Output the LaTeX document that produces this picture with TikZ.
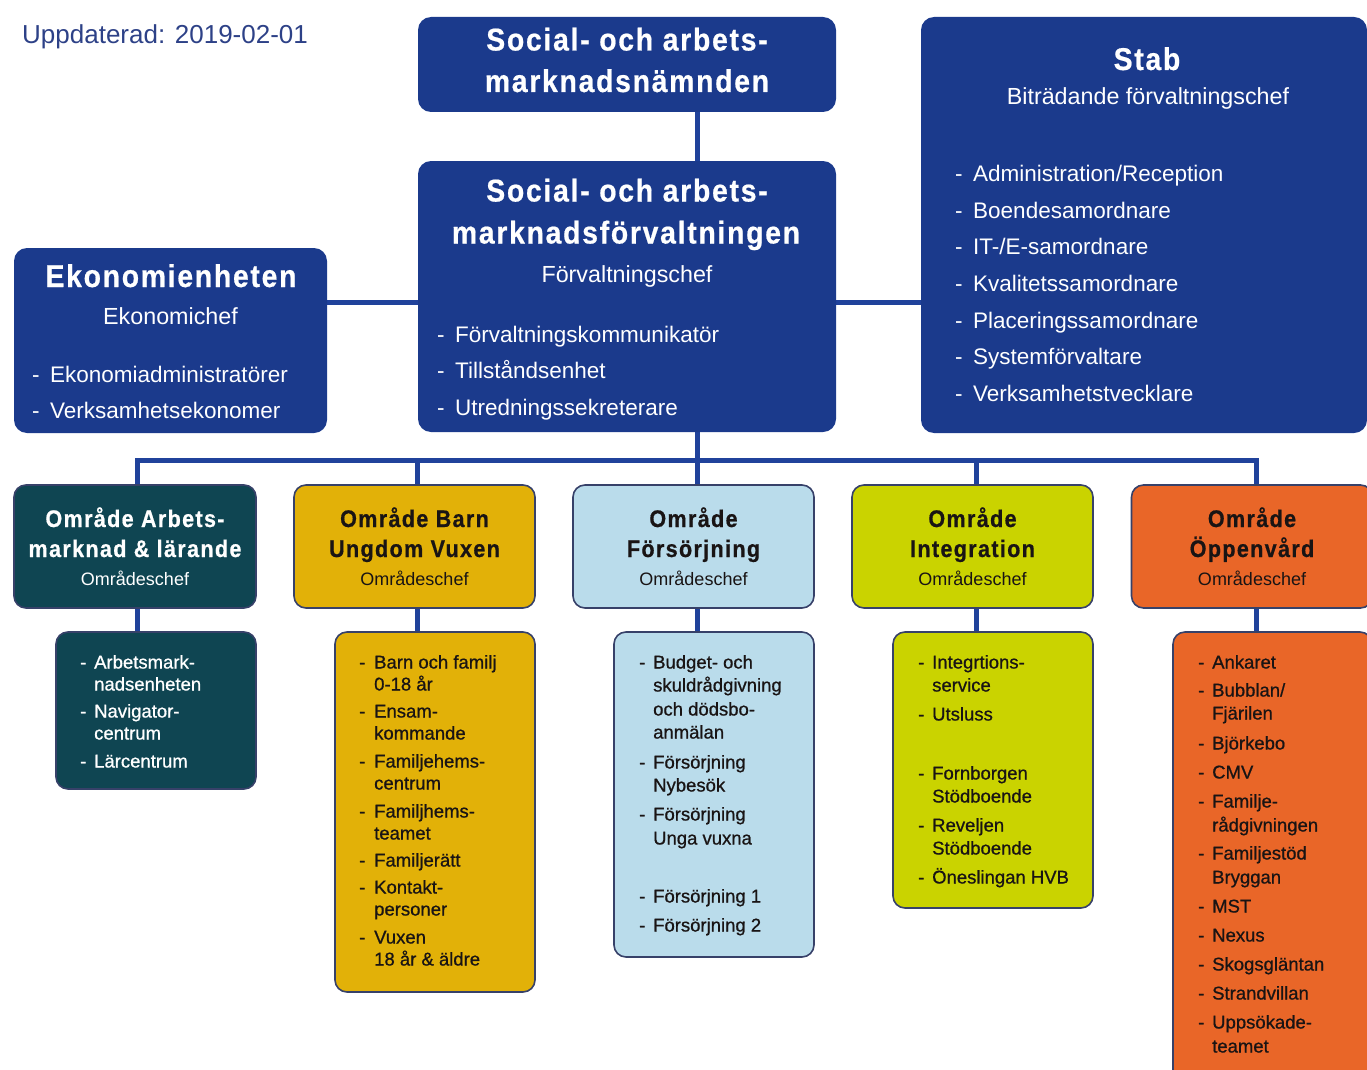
\documentclass[tikz,border=0pt]{standalone}
\usepackage{fontspec}
\setmainfont{Liberation Sans}
\newfontfamily\ttlfont[LetterSpace=5.5,FakeStretch=0.9,FakeBold=0.6]{Liberation Sans Bold}
\newfontfamily\medfont[FakeBold=0.8]{Liberation Sans}
\usetikzlibrary{backgrounds}
\definecolor{navy}{RGB}{27,58,140}
\definecolor{linec}{RGB}{32,66,155}
\definecolor{datec}{RGB}{45,65,135}
\definecolor{bord}{RGB}{55,65,105}
\definecolor{teal}{RGB}{15,69,82}
\definecolor{amber}{RGB}{226,177,8}
\definecolor{lblue}{RGB}{186,220,235}
\definecolor{lime}{RGB}{202,211,0}
\definecolor{orng}{RGB}{233,102,40}
\definecolor{dark}{RGB}{25,20,20}
\tikzset{
  box/.style={rounded corners=13pt, inner sep=0pt, outer sep=0pt},
  navybox/.style={box, fill=navy},
  areabox/.style={box, draw=bord, line width=1.6pt, rounded corners=12pt},
  conn/.style={draw=linec, line width=5pt},
  bigttl/.style={anchor=base, inner sep=0pt, text=white, font=\ttlfont\fontsize{31.5}{36}\selectfont},
  bigsub/.style={anchor=base, inner sep=0pt, text=white, font=\fontsize{23.3}{28}\selectfont},
  bigitem/.style={anchor=base west, inner sep=0pt, text=white, font=\fontsize{22.5}{27}\selectfont},
  arttl/.style={anchor=base, inner sep=0pt, font=\ttlfont\fontsize{24}{28}\selectfont},
  arsub/.style={anchor=base, inner sep=0pt, font=\fontsize{18}{22}\selectfont},
  subitem/.style={anchor=base west, inner sep=0pt, font=\medfont\fontsize{18.5}{22}\selectfont},
  wt/.style={text=white},
  dk/.style={text=dark}
}
% #1 name prefix, #2 dash x, #3 text x, #4 style, #5 list y/dash/text
\newcommand\mklist[5]{%
  \foreach \yy/\dd/\txt [count=\n] in {#5}{%
    \node[#4] (#1-\n) at (#3,\yy) {\txt};
    \ifnum\dd=1 \node[#4] (#1-d\n) at (#2,\yy) {-};\fi
  }}
\begin{document}
\begin{tikzpicture}[x=1pt,y=-1pt]
\useasboundingbox (0,0) rectangle (1367,1070);
\clip (0,0) rectangle (1367,1070);

% date
\node[anchor=base west, inner sep=0pt, text=datec, font=\fontsize{26}{30}\selectfont] (date) at (22,44) {Uppdaterad: 2019-02-01};

% top boxes
\node[navybox, minimum width=418pt, minimum height=95pt] (nmnd) at (627,64.5) {};
\node[navybox, minimum width=418pt, minimum height=271pt] (forv) at (627,296.5) {};
\node[navybox, minimum width=313pt, minimum height=185pt] (eko) at (170.5,340.5) {};
\node[navybox, minimum width=446pt, minimum height=416pt] (stab) at (1144,225) {};

% area boxes
\node[areabox, fill=teal,  minimum width=242pt, minimum height=123pt] (A1) at (135,546.5) {};
\node[areabox, fill=amber, minimum width=241pt, minimum height=123pt] (A2) at (414.5,546.5) {};
\node[areabox, fill=lblue, minimum width=241pt, minimum height=123pt] (A3) at (693.5,546.5) {};
\node[areabox, fill=lime,  minimum width=241pt, minimum height=123pt] (A4) at (972.5,546.5) {};
\node[areabox, fill=orng,  minimum width=241pt, minimum height=123pt] (A5) at (1252,546.5) {};

% sub boxes
\node[areabox, fill=teal,  minimum width=200pt, minimum height=157pt] (S1) at (156,710.5) {};
\node[areabox, fill=amber, minimum width=200pt, minimum height=360pt] (S2) at (435,812) {};
\node[areabox, fill=lblue, minimum width=200pt, minimum height=325pt] (S3) at (714,794.5) {};
\node[areabox, fill=lime,  minimum width=200pt, minimum height=276pt] (S4) at (993,770) {};
\node[areabox, fill=orng,  minimum width=199pt, minimum height=453pt] (S5) at (1272.5,858.5) {};

% connectors
\begin{scope}[on background layer]
  \coordinate (cx) at (697,460);
  \coordinate (hy) at (0,302);
  \coordinate (b1) at (137,460);
  \coordinate (b2) at (417,460);
  \coordinate (b3) at (697,460);
  \coordinate (b4) at (976,460);
  \coordinate (b5) at (1256,460);
  \draw[conn] (nmnd.south -| cx) -- (forv.north -| cx);
  \draw[conn] (forv.south -| cx) -- (cx);
  \draw[conn] (eko.east |- hy) -- (forv.west |- hy);
  \draw[conn] (forv.east |- hy) -- (stab.west |- hy);
  \draw[conn] (A1.north -| b1) -- (b1) -- (b5) -- (A5.north -| b5);
  \foreach \k in {2,3,4}{\draw[conn] (b\k) -- (A\k.north -| b\k);}
  \foreach \k in {1,...,5}{\draw[conn] (A\k.south -| b\k) -- (S\k.north -| b\k);}
\end{scope}

% texts top
\node[bigttl] (nmnd-t1) at (627,50.5) {Social- och arbets-};
\node[bigttl] (nmnd-t2) at (627,92) {marknadsnämnden};

\node[bigttl] (forv-t1) at (627,201.5) {Social- och arbets-};
\node[bigttl] (forv-t2) at (626,243.5) {marknadsförvaltningen};
\node[bigsub] (forv-t3) at (627,282) {Förvaltningschef};
\mklist{forvl}{437}{455}{bigitem}{342/1/{Förvaltningskommunikatör}, 378.5/1/{Tillståndsenhet}, 415/1/{Utredningssekreterare}}

\node[bigttl] (eko-t1) at (171,287) {Ekonomienheten};
\node[bigsub] (eko-t2) at (170.5,324) {Ekonomichef};
\mklist{ekol}{32}{50}{bigitem}{382/1/{Ekonomiadministratörer}, 418/1/{Verksamhetsekonomer}}

\node[bigttl] (stab-t1) at (1147,70) {Stab};
\node[bigsub] (stab-t2) at (1148,105) {Biträdande förvaltningschef};
\mklist{stabl}{955}{973}{bigitem}{181.5/1/{Administration/Reception}, 218/1/{Boendesamordnare}, 254.7/1/{IT-/E-samordnare}, 291.3/1/{Kvalitetssamordnare}, 328/1/{Placeringssamordnare}, 364.5/1/{Systemförvaltare}, 401/1/{Verksamhetstvecklare}}

% area titles
\node[arttl, wt] (A1-t1) at (135,527) {Område Arbets-};
\node[arttl, wt] (A1-t2) at (135,557) {marknad \& lärande};
\node[arsub, wt] (A1-t3) at (135,585) {Områdeschef};

\node[arttl, dk] (A2-t1) at (414.5,527) {Område Barn};
\node[arttl, dk] (A2-t2) at (414.5,557) {Ungdom Vuxen};
\node[arsub, dk] (A2-t3) at (414.5,585) {Områdeschef};

\node[arttl, dk] (A3-t1) at (693.5,527) {Område};
\node[arttl, dk] (A3-t2) at (693.5,557) {Försörjning};
\node[arsub, dk] (A3-t3) at (693.5,585) {Områdeschef};

\node[arttl, dk] (A4-t1) at (972.5,527) {Område};
\node[arttl, dk] (A4-t2) at (972.5,557) {Integration};
\node[arsub, dk] (A4-t3) at (972.5,585) {Områdeschef};

\node[arttl, dk] (A5-t1) at (1252,527) {Område};
\node[arttl, dk] (A5-t2) at (1252,557) {Öppenvård};
\node[arsub, dk] (A5-t3) at (1252,585) {Områdeschef};

% sub lists
\mklist{s1}{80}{94}{subitem,wt}{668.5/1/{Arbetsmark-}, 690.5/0/{nadsenheten}, 717.5/1/{Navigator-}, 739.5/0/{centrum}, 767.5/1/{Lärcentrum}}

\mklist{s2}{359}{374}{subitem,dk}{668.5/1/{Barn och familj}, 690.5/0/{0-18 år}, 717.5/1/{Ensam-}, 739.5/0/{kommande}, 767.5/1/{Familjehems-}, 789.5/0/{centrum}, 817.5/1/{Familjhems-}, 839.5/0/{teamet}, 866.5/1/{Familjerätt}, 893.5/1/{Kontakt-}, 915.5/0/{personer}, 943.5/1/{Vuxen}, 965.5/0/{18 år \& äldre}}

\mklist{s3}{639}{653}{subitem,dk}{668.5/1/{Budget- och}, 691.5/0/{skuldrådgivning}, 715.5/0/{och dödsbo-}, 738.5/0/{anmälan}, 768.5/1/{Försörjning}, 791.5/0/{Nybesök}, 820.5/1/{Försörjning}, 844.5/0/{Unga vuxna}, 902.5/1/{Försörjning 1}, 931.5/1/{Försörjning 2}}

\mklist{s4}{918}{932}{subitem,dk}{668.5/1/{Integrtions-}, 691.5/0/{service}, 720.5/1/{Utsluss}, 779.5/1/{Fornborgen}, 802.5/0/{Stödboende}, 831.5/1/{Reveljen}, 854.5/0/{Stödboende}, 883.5/1/{Öneslingan HVB}}

\mklist{s5}{1198}{1212}{subitem,dk}{668.5/1/{Ankaret}, 696.5/1/{Bubblan/}, 719.5/0/{Fjärilen}, 749.5/1/{Björkebo}, 778.5/1/{CMV}, 807.5/1/{Familje-}, 831.5/0/{rådgivningen}, 859.5/1/{Familjestöd}, 883.5/0/{Bryggan}, 912.5/1/{MST}, 941.5/1/{Nexus}, 970.5/1/{Skogsgläntan}, 999.5/1/{Strandvillan}, 1028.5/1/{Uppsökade-}, 1052.5/0/{teamet}}
\end{tikzpicture}
\end{document}
